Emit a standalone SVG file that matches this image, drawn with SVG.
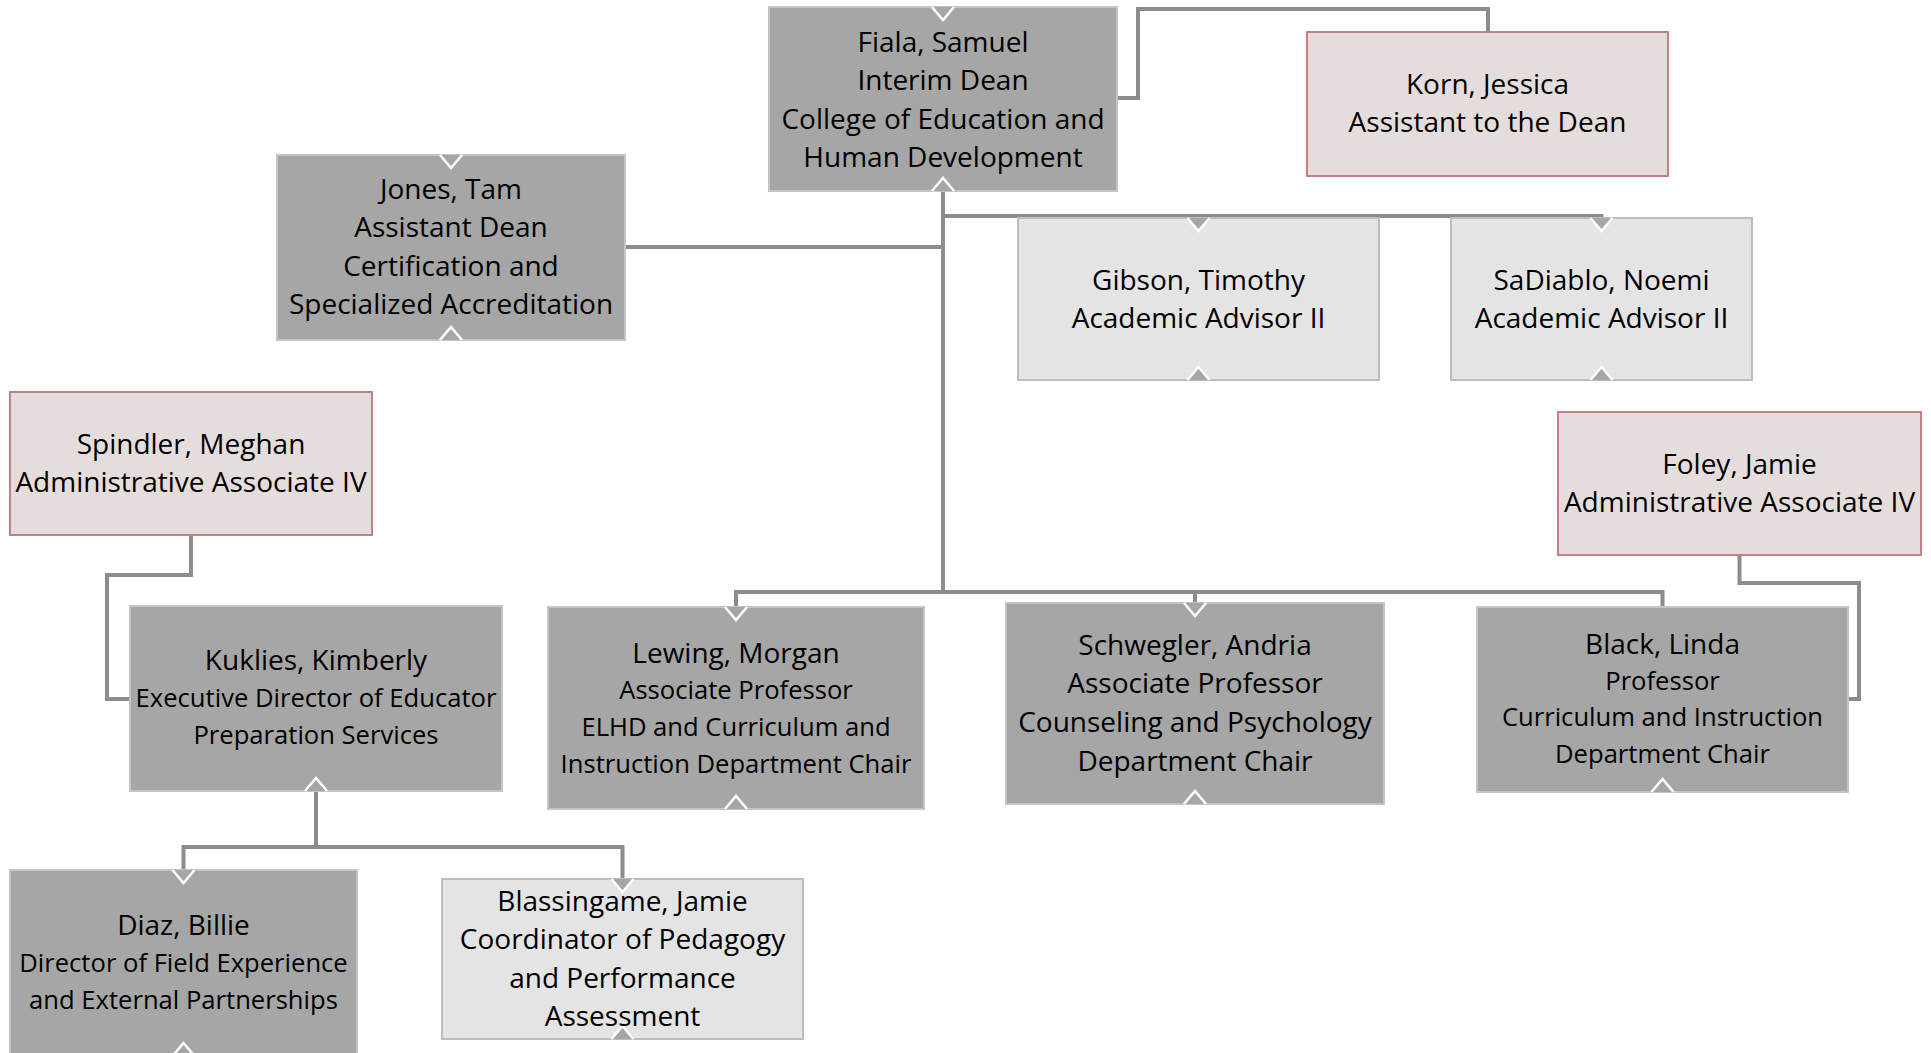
<svg xmlns="http://www.w3.org/2000/svg" width="1931" height="1053" viewBox="0 0 1931 1053">
<style>
.bg{fill:#ffffff}
.dark{fill:#a6a6a6;stroke:#c4c4c4;stroke-width:2}
.light{fill:#e4e4e4;stroke:#bdbdbd;stroke-width:2}
.pink{fill:#e5dddc;stroke:#c47f88;stroke-width:2}
.notch{fill:#a6a6a6;stroke:#ffffff;stroke-width:2.5;stroke-linejoin:miter}
.conn{fill:none;stroke:#8c8c8c;stroke-width:4}
text{font-family:"Open Sans","Noto Sans","Liberation Sans",sans-serif;fill:#000000;text-anchor:middle}
.l{font-size:28px}
.s{font-size:25.6px}
</style>
<rect class="bg" x="0" y="0" width="1931" height="1053"/>
<g id="connectors">
<path class="conn" d="M1117,98 H1138 V9 H1488 V32"/>
<path class="conn" d="M943,191 V592"/>
<path class="conn" d="M943,247 H625"/>
<path class="conn" d="M943,216 H1601.5 V219"/>
<path class="conn" d="M1198.5,216 V219"/>
<path class="conn" d="M736,607 V592 H1662.5 V607"/>
<path class="conn" d="M1195,592 V603"/>
<path class="conn" d="M1739.5,555 V583 H1859 V699 H1848"/>
<path class="conn" d="M191,535 V575 H107 V699 H130"/>
<path class="conn" d="M316,791 V847"/>
<path class="conn" d="M183.5,870 V847 H622.5 V879"/>
</g>
<g id="fiala">
<rect class="dark" x="769" y="7" width="348" height="184"/>
<path class="notch" d="M932,7 L943,20 L954,7"/>
<path class="notch" d="M932,191 L943,178 L954,191"/>
<text class="l" x="943" y="52">Fiala, Samuel</text>
<text class="l" x="943" y="90">Interim Dean</text>
<text class="l" x="943" y="129">College of Education and</text>
<text class="l" x="943" y="167">Human Development</text>
</g>
<g id="korn">
<rect class="pink" x="1307" y="32" width="361" height="144"/>
<text class="l" x="1487.5" y="94">Korn, Jessica</text>
<text class="l" x="1487.5" y="132">Assistant to the Dean</text>
</g>
<g id="jones">
<rect class="dark" x="277" y="155" width="348" height="185"/>
<path class="notch" d="M440,155 L451,168 L462,155"/>
<path class="notch" d="M440,340 L451,327 L462,340"/>
<text class="l" x="451" y="199">Jones, Tam</text>
<text class="l" x="451" y="237">Assistant Dean</text>
<text class="l" x="451" y="276">Certification and</text>
<text class="l" x="451" y="314">Specialized Accreditation</text>
</g>
<g id="gibson">
<rect class="light" x="1018" y="218" width="361" height="162"/>
<path class="notch" d="M1187.5,218 L1198.5,231 L1209.5,218"/>
<path class="notch" d="M1187.5,380 L1198.5,367 L1209.5,380"/>
<text class="l" x="1198.5" y="290">Gibson, Timothy</text>
<text class="l" x="1198.5" y="328">Academic Advisor II</text>
</g>
<g id="sadiablo">
<rect class="light" x="1451" y="218" width="301" height="162"/>
<path class="notch" d="M1590.5,218 L1601.5,231 L1612.5,218"/>
<path class="notch" d="M1590.5,380 L1601.5,367 L1612.5,380"/>
<text class="l" x="1601.5" y="290">SaDiablo, Noemi</text>
<text class="l" x="1601.5" y="328">Academic Advisor II</text>
</g>
<g id="spindler">
<rect class="pink" x="10" y="392" width="362" height="143"/>
<text class="l" x="191" y="454">Spindler, Meghan</text>
<text class="l" x="191" y="492">Administrative Associate IV</text>
</g>
<g id="foley">
<rect class="pink" x="1558" y="412" width="363" height="143"/>
<text class="l" x="1739.5" y="474">Foley, Jamie</text>
<text class="l" x="1739.5" y="512">Administrative Associate IV</text>
</g>
<g id="kuklies">
<rect class="dark" x="130" y="606" width="372" height="185"/>
<path class="notch" d="M305,791 L316,778 L327,791"/>
<text class="l" x="316" y="670">Kuklies, Kimberly</text>
<text class="s" x="316" y="707">Executive Director of Educator</text>
<text class="s" x="316" y="744">Preparation Services</text>
</g>
<g id="lewing">
<rect class="dark" x="548" y="607" width="376" height="202"/>
<path class="notch" d="M725,607 L736,620 L747,607"/>
<path class="notch" d="M725,809 L736,796 L747,809"/>
<text class="l" x="736" y="663">Lewing, Morgan</text>
<text class="s" x="736" y="699">Associate Professor</text>
<text class="s" x="736" y="736">ELHD and Curriculum and</text>
<text class="s" x="736" y="773">Instruction Department Chair</text>
</g>
<g id="schwegler">
<rect class="dark" x="1006" y="603" width="378" height="201"/>
<path class="notch" d="M1184,603 L1195,616 L1206,603"/>
<path class="notch" d="M1184,804 L1195,791 L1206,804"/>
<text class="l" x="1195" y="655">Schwegler, Andria</text>
<text class="l" x="1195" y="693">Associate Professor</text>
<text class="l" x="1195" y="732">Counseling and Psychology</text>
<text class="l" x="1195" y="771">Department Chair</text>
</g>
<g id="black">
<rect class="dark" x="1477" y="607" width="371" height="185"/>
<path class="notch" d="M1651.5,792 L1662.5,779 L1673.5,792"/>
<text class="l" x="1662.5" y="654">Black, Linda</text>
<text class="s" x="1662.5" y="690">Professor</text>
<text class="s" x="1662.5" y="726">Curriculum and Instruction</text>
<text class="s" x="1662.5" y="763">Department Chair</text>
</g>
<g id="diaz">
<rect class="dark" x="10" y="870" width="347" height="186"/>
<path class="notch" d="M172.5,870 L183.5,883 L194.5,870"/>
<path class="notch" d="M172.5,1056 L183.5,1043 L194.5,1056"/>
<text class="l" x="183.5" y="935">Diaz, Billie</text>
<text class="s" x="183.5" y="972">Director of Field Experience</text>
<text class="s" x="183.5" y="1009">and External Partnerships</text>
</g>
<g id="blassingame">
<rect class="light" x="442" y="879" width="361" height="160"/>
<path class="notch" d="M611.5,879 L622.5,892 L633.5,879"/>
<path class="notch" d="M611.5,1039 L622.5,1026 L633.5,1039"/>
<text class="l" x="622.5" y="911">Blassingame, Jamie</text>
<text class="l" x="622.5" y="949">Coordinator of Pedagogy</text>
<text class="l" x="622.5" y="988">and Performance</text>
<text class="l" x="622.5" y="1026">Assessment</text>
</g>
</svg>
